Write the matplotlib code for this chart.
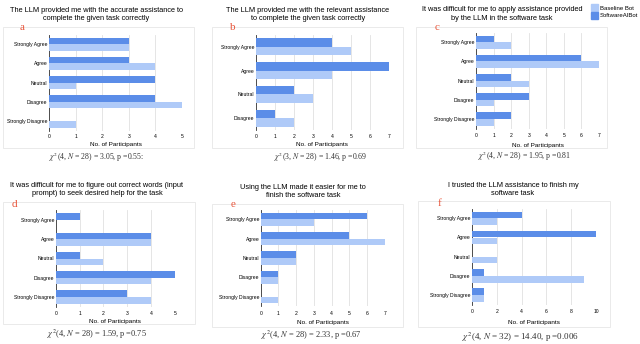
import matplotlib
matplotlib.use("Agg")
from matplotlib import pyplot as plt
from matplotlib.patches import Rectangle, Patch

plt.rcParams['font.family'] = ['Liberation Sans', 'DejaVu Sans']
plt.rcParams['mathtext.fontset'] = 'stix'

W, H = 640, 344

cats5 = ['Strongly Agree', 'Agree', 'Neutral', 'Disagree', 'Strongly Disagree']
cats4 = ['Strongly Agree', 'Agree', 'Neutral', 'Disagree']

# valores (SoftwareAIBot, Baseline Bot)
soft_a = [3, 3, 4, 4, 0]
base_a = [3, 4, 1, 5, 1]
soft_b = [4, 7, 2, 1]
base_b = [5, 4, 3, 2]
soft_c = [1, 6, 2, 3, 2]
base_c = [2, 7, 3, 1, 1]
soft_d = [1, 4, 1, 5, 3]
base_d = [0, 4, 2, 4, 4]
soft_e = [6, 5, 2, 1, 0]
base_e = [3, 7, 2, 1, 1]
soft_f = [4, 10, 0, 1, 1]
base_f = [2, 2, 2, 9, 1]

titulos = [
    "The LLM provided me with the accurate assistance to\ncomplete the given task correctly",
    "The LLM provided me with the relevant assistance\nto complete the given task correctly",
    "It was difficult for me to apply assistance provided\nby the LLM in the software task",
    "It was difficult for me to figure out correct words (input\nprompt) to seek desired help for the task",
    "Using the LLM made it easier for me to\nfinish the software task",
    "I trusted the LLM assistance to finish my\nsoftware task",
]
estatisticas = [
    r"$\chi^2$(4, $N$ = 28) = 3.05, p =0.55:",
    r"$\chi^2$(3, $N$ = 28) = 1.46, p =0.69",
    r"$\chi^2$(4, $N$ = 28) = 1.95, p =0.81",
    r"$\chi^2$(4, $N$ = 28) = 1.59, p =0.75",
    r"$\chi^2$(4, $N$ = 28) = 2.33, p =0.67",
    r"$\chi^2$(4, $N$ = 32) = 14.40, p =0.006",
]
letras = ['a', 'b', 'c', 'd', 'e', 'f']

cor_soft = '#5b8de8'
cor_base = '#afcaf8'

fig = plt.figure(figsize=(W / 100, H / 100), dpi=100)


def px(x, y):
    return x / W, 1 - y / H


def faz_painel(i, cats, soft, base, xmax, xticks, eixo, moldura, titulo_xy, letra_xy,
               chi_xy, chi_fs, ticky, xlaby):
    # moldura cinzenta
    fx0, fy0, fx1, fy1 = moldura
    fig.patches.append(Rectangle(px(fx0, fy1), (fx1 - fx0) / W, (fy1 - fy0) / H,
                                 transform=fig.transFigure, facecolor='none',
                                 edgecolor='#e6e6e6', linewidth=0.6, zorder=-10))
    x0, x1, y0, y1 = eixo
    ax = fig.add_axes([x0 / W, 1 - y1 / H, (x1 - x0) / W, (y1 - y0) / H])
    n = len(cats)
    pos = list(range(n))
    h = 0.345
    ax.barh([p - h / 2 for p in pos], soft, height=h, color=cor_soft, zorder=3)
    ax.barh([p + h / 2 for p in pos], base, height=h, color=cor_base, zorder=3)
    ax.set_ylim(n - 0.5, -0.5)
    ax.set_xlim(0, xmax)
    ax.set_xticks(xticks)
    ax.set_yticks(pos)
    ax.set_yticklabels(cats, fontsize=3.6)
    ax.tick_params(axis='x', labelsize=3.6, length=0, pad=(ticky - y1) * 0.72 - 2)
    ax.tick_params(axis='y', length=0, pad=1)
    ax.grid(axis='x', color='#e0e0e0', linewidth=0.6, zorder=0)
    for s in ['top', 'right', 'bottom']:
        ax.spines[s].set_visible(False)
    ax.spines['left'].set_color('#333333')
    ax.spines['left'].set_linewidth(0.6)
    ax.set_facecolor('none')
    fig.text(*px((x0 + x1) / 2, xlaby), 'No. of Participants', fontsize=4.6,
             ha='center', va='center')
    fig.text(*px(*titulo_xy), titulos[i], fontsize=5.3, ha='center', va='center',
             linespacing=1.25)
    fig.text(*px(*letra_xy), letras[i], fontsize=8, color='#e8553a', ha='center',
             va='center', family='Liberation Serif')
    fig.text(*px(*chi_xy), estatisticas[i], fontsize=chi_fs, ha='center', va='center',
             family='Liberation Serif', color='#333333')
    return ax


faz_painel(0, cats5, soft_a, base_a, 5, range(0, 6), (49, 182, 34.7, 130.6),
           (3, 27, 194, 148), (96, 14.5), (22, 27.5), (96, 157), 5.6, 137, 144)
faz_painel(1, cats4, soft_b, base_b, 7, range(0, 8), (255.7, 389, 34.7, 130.3),
           (212, 27, 403, 148), (308, 14.5), (233, 27), (321, 157), 5.6, 137, 144)
faz_painel(2, cats5, soft_c, base_c, 7, range(0, 8), (476, 599, 32.7, 128.6),
           (416, 27, 607, 148), (502, 14), (437, 27), (525, 156), 5.6, 136, 145)
faz_painel(3, cats5, soft_d, base_d, 5, range(0, 6), (55.7, 175, 210.4, 306.6),
           (3, 202, 195, 324), (97, 189.5), (14, 204), (97, 334), 6.0, 314, 321.7)
faz_painel(4, cats5, soft_e, base_e, 7, range(0, 8), (260.7, 384.7, 209.7, 306.3),
           (212, 204, 403, 327), (303, 191.5), (233, 204), (311.7, 335.7), 6.0, 313.3, 322.7)
faz_painel(5, cats5, soft_f, base_f, 10, range(0, 11, 2), (472, 596, 208.7, 304.7),
           (418, 201, 610, 327), (513, 189.5), (439, 203.5), (520, 337.7), 6.5, 311.7, 322.7)

legenda = [Patch(color=cor_base, label='Baseline Bot'),
           Patch(color=cor_soft, label='SoftwareAIBot')]
fig.legend(handles=legenda, loc='upper left', bbox_to_anchor=px(587, 0), frameon=False,
           fontsize=4.3, handlelength=1.2, handleheight=1.4, handletextpad=0.3,
           labelspacing=0.15, borderpad=0.2)

fig.savefig('out.png', dpi=100, facecolor='white')
